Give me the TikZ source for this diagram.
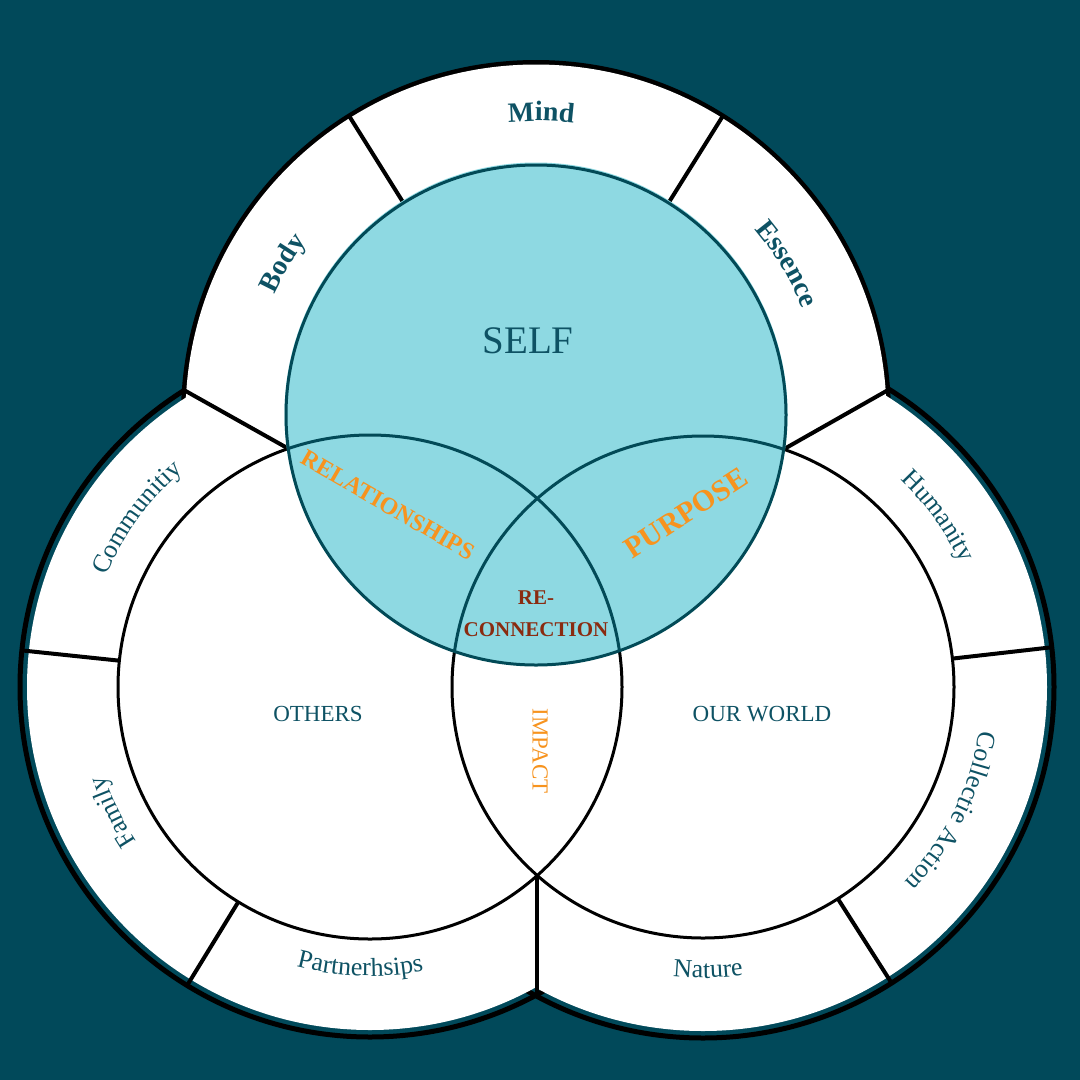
\documentclass[tikz,border=0pt]{standalone}
\usepackage{fontspec}
\setmainfont{Liberation Serif}
\usetikzlibrary{decorations.text,calc}
\definecolor{bg}{HTML}{01495A}
\definecolor{tealtxt}{HTML}{0E5264}
\definecolor{selffill}{HTML}{8ED9E2}
\definecolor{selfline}{HTML}{024A57}
\definecolor{orangetxt}{HTML}{F7931E}
\definecolor{redtxt}{HTML}{8A2B10}
\newcommand{\ringfont}{\fontsize{26}{30}\selectfont}
\newcommand{\boldringfont}{\fontsize{28}{32}\selectfont\bfseries}
\begin{document}
\begin{tikzpicture}[x=1pt,y=-1pt,
  outerline/.style={draw=black, line width=5pt},
  sepline/.style={draw=black, line width=4pt},
  innerline/.style={draw=black, line width=3pt},
  ringlabel/.style={decorate, decoration={text along path, text align=center, text={|\color{tealtxt}\ringfont|#1}}},
  boldlabel/.style={decorate, decoration={text along path, text align=center, text={|\color{tealtxt}\boldringfont|#1}}},
  centerlabel/.style={text=tealtxt, inner sep=0pt},
  overlap/.style={text=orangetxt, inner sep=0pt}]
\fill[bg] (0,0) rectangle (1080,1080);
\useasboundingbox (0,0) rectangle (1080,1080);
\coordinate (cT) at (536,415);
\coordinate (cL) at (370,687);
\coordinate (cR) at (703,687);
% outer trefoil
\draw[outerline] (cL) circle[radius=350];
\draw[outerline] (cR) circle[radius=351];
\draw[outerline] (cT) circle[radius=352.5];
\fill[white] (cL) circle[radius=343];
\fill[white] (cR) circle[radius=344];
\fill[white] (cT) circle[radius=350.5];
% separator coordinates
\coordinate (jL) at (184.4,390.3);
\coordinate (kL) at (288.3,448.6);
\coordinate (jR) at (887.6,390.3);
\coordinate (kR) at (783.6,449.3);
\coordinate (jB) at (537,996);
\coordinate (kB) at (537,875.5);
\coordinate (t1a) at ($(cT)+(-122:250)$);
\coordinate (t1b) at ($(cT)+(-122:352)$);
\coordinate (t2a) at ($(cT)+(-58:250)$);
\coordinate (t2b) at ($(cT)+(-58:352)$);
\coordinate (l1a) at ($(cL)+(186:252)$);
\coordinate (l1b) at ($(cL)+(186:350)$);
\coordinate (l2a) at ($(cL)+(121.5:252)$);
\coordinate (l2b) at ($(cL)+(121.5:350)$);
\coordinate (r1a) at ($(cR)+(-6.5:251)$);
\coordinate (r1b) at ($(cR)+(-6.5:351)$);
\coordinate (r2a) at ($(cR)+(57.5:251)$);
\coordinate (r2b) at ($(cR)+(57.5:351)$);
\draw[sepline] (t1a) -- (t1b);
\draw[sepline] (t2a) -- (t2b);
\draw[sepline] (jL) -- (kL);
\draw[sepline] (jR) -- (kR);
\draw[sepline] (l1a) -- (l1b);
\draw[sepline] (l2a) -- (l2b);
\draw[sepline] (r1a) -- (r1b);
\draw[sepline] (r2a) -- (r2b);
\draw[sepline] (kB) -- (jB);
% inner circles
\draw[innerline, fill=white] (cL) circle[radius=252];
\draw[innerline] (cR) circle[radius=251];
\fill[selffill] ($(cT)+(0,-1)$) circle[radius=251.5];
\begin{scope}
  \clip (cT) circle[radius=250];
  \draw[line width=3pt, selfline] (cL) circle[radius=252];
  \draw[line width=3pt, selfline] (cR) circle[radius=251];
\end{scope}
\draw[line width=3pt, selfline] (cT) circle[radius=250];
% ring labels
\path[boldlabel={Mind}] (cT) ++(-119:294) arc[start angle=-119, end angle=-59, radius=294];
\path[boldlabel={Body}] (cT) ++(-176:288) arc[start angle=-176, end angle=-122, radius=288];
\path[boldlabel={Essence}] (cT) ++(-58:287) arc[start angle=-58, end angle=-4, radius=287];
\path[ringlabel={Communitiy}] (cL) ++(-174:286) arc[start angle=-174, end angle=-114, radius=286];
\path[ringlabel={Family}] (cL) ++(124:280) arc[start angle=124, end angle=184, radius=280];
\path[ringlabel={Partnerhsips}] (cL) ++(122:289) arc[start angle=122, end angle=62, radius=289];
\path[ringlabel={Nature}] (cR) ++(119:291) arc[start angle=119, end angle=59, radius=291];
\path[ringlabel={Collectie Action}] (cR) ++(-14:280) arc[start angle=-14, end angle=67, radius=280];
\path[ringlabel={Humanity}] (cR) ++(-66:286) arc[start angle=-66, end angle=-6, radius=286];
% centre labels
\node[centerlabel, font=\fontsize{39}{44}\selectfont] (self) at (528,341) {SELF};
\node[centerlabel, font=\fontsize{23}{26}\selectfont] (others) at (318,714) {OTHERS};
\node[centerlabel, font=\fontsize{23}{26}\selectfont] (world) at (762,714) {OUR WORLD};
\node[overlap, rotate=-90, font=\fontsize{23}{26}\selectfont] (impact) at (540,751) {IMPACT};
\node[overlap, rotate=-30, font=\fontsize{24}{28}\selectfont\bfseries] (rel) at (388,505) {RELATIONSHIPS};
\node[overlap, rotate=33, font=\fontsize{30}{34}\selectfont\bfseries] (purp) at (686,513) {PURPOSE};
\node[text=redtxt, inner sep=0pt, align=center, font=\fontsize{21}{32}\selectfont\bfseries] (reconn) at (536,614) {RE-\\CONNECTION};
\end{tikzpicture}
\end{document}
